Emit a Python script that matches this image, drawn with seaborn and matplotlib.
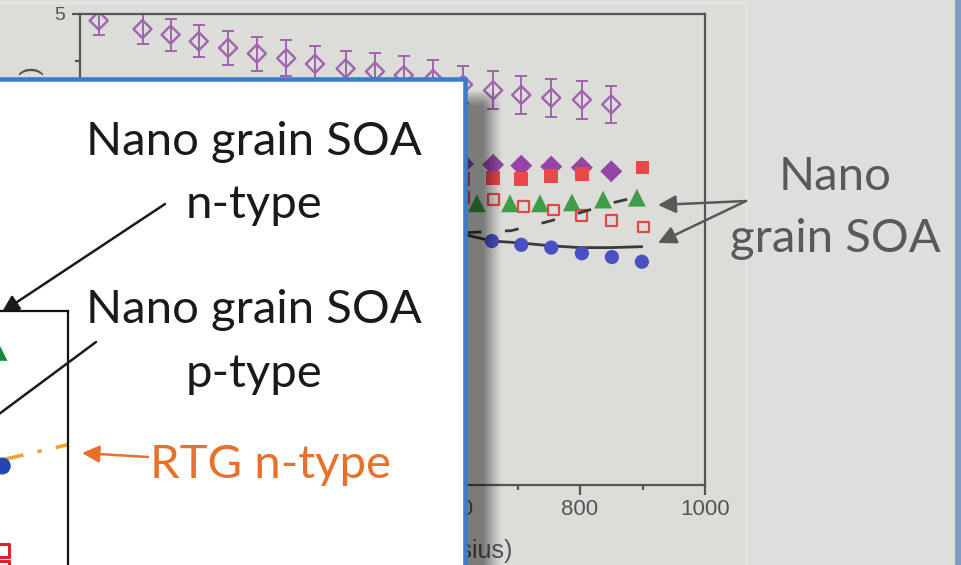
import numpy as np
import matplotlib
matplotlib.use("Agg")
import matplotlib.pyplot as plt
from matplotlib.patches import Rectangle
import seaborn as sns
import pandas as pd

# ---- background chart (temperature in Celsius) ----
open_diamond_x = [30, 100, 145, 190, 237, 283, 330, 376, 425, 472, 518, 565, 613, 661, 706, 754, 803, 850]
open_diamond_y = [4.93, 4.84, 4.78, 4.71, 4.64, 4.58, 4.53, 4.47, 4.42, 4.39, 4.35, 4.31, 4.25, 4.19, 4.14, 4.11, 4.09, 4.04]
open_diamond_err = [0.15, 0.16, 0.17, 0.17, 0.18, 0.18, 0.19, 0.19, 0.19, 0.2, 0.2, 0.2, 0.2, 0.2, 0.2, 0.2, 0.2, 0.2]

purple_x = [613, 661, 706, 754, 803, 850]
purple_y = [3.41, 3.40, 3.39, 3.38, 3.37, 3.33]

red_fill_x = [613, 661, 706, 754, 803, 900]
red_fill_y = [3.25, 3.26, 3.25, 3.28, 3.30, 3.37]

green_x = [635, 688, 736, 787, 837, 891]
green_y = [2.99, 2.99, 2.99, 3.00, 3.03, 3.05]

red_open_x = [613, 661, 709, 757, 803, 851, 901]
red_open_y = [3.05, 3.03, 2.96, 2.92, 2.86, 2.81, 2.74]

blue_x = [659, 706, 754, 803, 851, 899]
blue_y = [2.59, 2.55, 2.52, 2.46, 2.42, 2.37]

solid_x = [560, 621, 659, 704, 752, 800, 848, 899]
solid_y = [2.68, 2.65, 2.59, 2.57, 2.54, 2.52, 2.52, 2.53]

dash_x = [560, 621, 690, 745, 800, 855, 880]
dash_y = [2.67, 2.68, 2.70, 2.79, 2.89, 3.00, 3.04]

# ---- inset chart (only its right edge is on the slide) ----
inset_green_x = [874]
inset_green_y = [4.70]
inset_blue_x = [880]
inset_blue_y = [3.875]
inset_red_x = [880, 880]
inset_red_y = [3.26, 3.14]
rtg_x = [880, 1000]
rtg_y = [3.92, 4.03]

W, H = 961, 565
GRAY = "#555555"

sns.set_style("ticks")
plt.rcParams["font.family"] = ["Liberation Sans", "DejaVu Sans"]

fig = plt.figure(figsize=(W / 100, H / 100), dpi=100, facecolor="#dededd")


def px_axes(z):
    a = fig.add_axes([0, 0, 1, 1], zorder=z)
    a.set_xlim(0, W)
    a.set_ylim(H, 0)
    a.axis("off")
    a.patch.set_alpha(0)
    return a


# pasted picture area behind the chart
ax_base = px_axes(0)
ax_base.add_patch(Rectangle((-5, 3), 751, 600, facecolor="#dcddd9", edgecolor="#e9e9e6", lw=1))
ax_base.add_patch(Rectangle((955, -5), 10, 600, facecolor="#7f9dc3", edgecolor="none"))

# background chart
ax = fig.add_axes([80 / W, (H - 485) / H, 625 / W, 471 / H], zorder=1)
ax.patch.set_alpha(0)
ax.set_xlim(0, 1000)
ax.set_ylim(0, 5)

ax.errorbar(open_diamond_x, open_diamond_y, yerr=open_diamond_err, fmt="none",
            ecolor="#a063ad", elinewidth=1.4, capsize=4, capthick=1.4)
sns.scatterplot(x=open_diamond_x, y=open_diamond_y, ax=ax, marker="D", s=85,
                facecolor="none", edgecolor="#a063ad", linewidth=1.7)
sns.scatterplot(x=purple_x, y=purple_y, ax=ax, marker="D", s=125, color="#9445a6", edgecolor="none")
sns.scatterplot(x=red_fill_x, y=red_fill_y, ax=ax, marker="s", s=95, color="#e84848", edgecolor="none")
sns.scatterplot(x=green_x, y=green_y, ax=ax, marker="^", s=165, color="#3f9c48", edgecolor="none")
sns.scatterplot(x=red_open_x, y=red_open_y, ax=ax, marker="s", s=60, facecolor="none",
                edgecolor="#e04848", linewidth=1.6)
sns.lineplot(x=solid_x, y=solid_y, ax=ax, color="#3a3a3a", lw=2, sort=False)
sns.scatterplot(x=blue_x, y=blue_y, ax=ax, marker="o", s=105, color="#4a4fc4", edgecolor="none", zorder=3)
sns.lineplot(x=dash_x, y=dash_y, ax=ax, color="#3a3a3a", lw=2, sort=False, linestyle=(0, (5, 8.5)))

for s in ax.spines.values():
    s.set_color(GRAY)
    s.set_linewidth(1.6)
ax.set_xticks(range(0, 1001, 200))
ax.set_xticks(range(100, 1000, 200), minor=True)
ax.set_yticks(range(0, 6))
ax.set_yticks([0.5, 1.5, 2.5, 3.5, 4.5], minor=True)
ax.tick_params(axis="x", which="major", length=7, width=1.6, color=GRAY, labelcolor=GRAY,
               labelsize=16, pad=3)
ax.tick_params(axis="y", which="major", length=6, width=1.6, color=GRAY, labelcolor=GRAY,
               labelsize=14, pad=5)
ax.tick_params(which="minor", length=3.5, width=1.6, color=GRAY)
ax.set_xlabel("Temperature (degree Celsius)", fontsize=18, color=GRAY, ha="right")
ax.xaxis.set_label_coords((512 - 80) / 625, -0.115)
ax.text((32 - 80) / 625, (485 - 71) / 471, ")", transform=ax.transAxes, rotation=90,
        fontsize=19, color=GRAY, ha="center", va="center")

# text box with shadow
ax_box = px_axes(2)
shade = np.zeros((60, 50, 4))
xs = np.linspace(0, 1, 50)
ys = np.linspace(0, 1, 60)
ax_prof = np.clip((1 - xs) / 0.5, 0, 1) ** 1.2
ay_prof = np.clip(ys / 0.03, 0, 1)
shade[..., 3] = 0.44 * ay_prof[:, None] * ax_prof[None, :]
ax_box.imshow(shade, extent=[464, 503, 565, 86], aspect="auto", interpolation="bilinear")
ax_box.add_patch(Rectangle((-20, 78.5), 485, 600, facecolor="white", edgecolor="#3d7cc8", lw=3.3))
ax_box.set_xlim(0, W)
ax_box.set_ylim(H, 0)

# inset chart, mostly off the slide
ax_in = fig.add_axes([-480 / W, (H - 1000) / H, 548 / W, 689 / H], zorder=3)
ax_in.patch.set_alpha(0)
ax_in.set_xlim(0, 1000)
ax_in.set_ylim(0, 5)
ax_in.set_xticks([])
ax_in.set_yticks([])
for s in ax_in.spines.values():
    s.set_color("#111111")
    s.set_linewidth(1.6)
sns.lineplot(x=rtg_x, y=rtg_y, ax=ax_in, color="#f2a22c", lw=2.6, sort=False,
             linestyle=(0, (6, 4, 1.2, 4)))
sns.scatterplot(x=inset_green_x, y=inset_green_y, ax=ax_in, marker="^", s=150, color="#158a3c", edgecolor="none")
sns.scatterplot(x=inset_blue_x, y=inset_blue_y, ax=ax_in, marker="o", s=150, color="#2446b4", edgecolor="none", zorder=4)
sns.scatterplot(x=inset_red_x, y=inset_red_y, ax=ax_in, marker="s", s=90, facecolor="none",
                edgecolor="#e0202a", linewidth=2.2)

# annotations
ax_t = px_axes(4)
ax_t.set_xlim(0, W)
ax_t.set_ylim(H, 0)
big = dict(fontsize=34, family=["Lato", "DejaVu Sans"], ha="center", va="baseline")
ax_t.text(254, 155, "Nano grain SOA", color="#1a1a1a", **big)
ax_t.text(254, 218, "n-type", color="#1a1a1a", **big)
ax_t.text(254, 323, "Nano grain SOA", color="#1a1a1a", **big)
ax_t.text(254, 387, "p-type", color="#1a1a1a", **big)
ax_t.text(270, 478, "RTG n-type", color="#e8702a", **big)
ax_t.text(835, 190, "Nano", color="#595959", **big)
ax_t.text(835, 252, "grain SOA", color="#595959", **big)

ax_t.annotate("", xy=(2, 312), xytext=(165, 204),
              arrowprops=dict(arrowstyle="-|>", lw=1.8, color="#1a1a1a", mutation_scale=25,
                              shrinkA=0, shrinkB=0))
ax_t.plot([96, -40], [342, 443], color="#1a1a1a", lw=1.8, clip_on=False)
ax_t.annotate("", xy=(82, 453), xytext=(148, 457),
              arrowprops=dict(arrowstyle="-|>", lw=1.8, color="#e8702a", mutation_scale=26,
                              shrinkA=0, shrinkB=0))
for tip in [(658, 205), (658, 243)]:
    ax_t.annotate("", xy=tip, xytext=(746, 201),
                  arrowprops=dict(arrowstyle="-|>", lw=1.8, color="#595959", mutation_scale=27,
                                  shrinkA=0, shrinkB=0))

fig.savefig("out.png", dpi=100, facecolor=fig.get_facecolor())
